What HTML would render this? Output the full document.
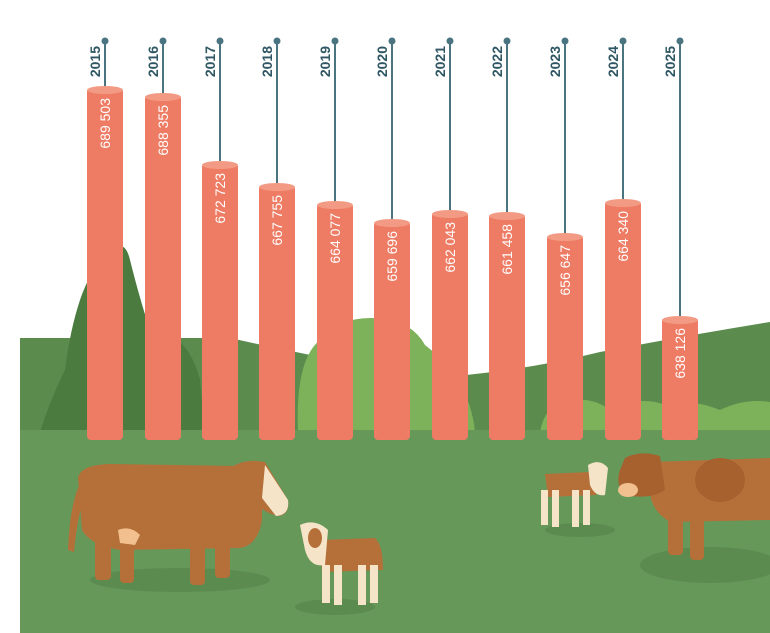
<!DOCTYPE html>
<html><head><meta charset="utf-8"><style>
html,body{margin:0;padding:0;background:#fff;}
svg{display:block}
text{font-family:"Liberation Sans",sans-serif}
</style></head><body>
<svg width="770" height="633" viewBox="0 0 770 633" xmlns="http://www.w3.org/2000/svg">
<rect width="770" height="633" fill="#fff"/>
<!-- back hill -->
<path d="M20 338 L230 338 Q330 360 430 378 Q520 372 600 352 Q690 335 770 322 L770 440 L20 440 Z" fill="#5b8c4e"/>
<!-- dark tree -->
<path d="M80 300 Q90 270 110 250 Q125 238 130 260 Q140 300 150 330 Q170 350 185 380 Q195 410 200 432 L40 432 Q50 400 65 370 Q70 330 80 300 Z" fill="#4b7b3f"/>
<path d="M160 330 Q190 340 200 380 L205 432 L150 432 Z" fill="#4b7b3f"/>
<!-- light bush -->
<path d="M298 432 Q295 360 320 340 Q340 318 370 318 Q410 318 425 345 Q470 380 475 432 Z" fill="#7db25a"/>
<path d="M540 432 Q545 405 565 402 Q590 395 610 410 Q640 395 665 405 Q690 398 720 410 Q745 398 770 402 L770 432 Z" fill="#7db25a"/>
<!-- ground -->
<rect x="20" y="430" width="750" height="203" fill="#66985a"/>
<!-- shadows -->
<ellipse cx="180" cy="580" rx="90" ry="12" fill="#5c8b50"/>
<ellipse cx="335" cy="607" rx="40" ry="8" fill="#5c8b50"/>
<ellipse cx="580" cy="530" rx="35" ry="7" fill="#5c8b50"/>
<ellipse cx="710" cy="565" rx="70" ry="18" fill="#5c8b50"/>
<!-- big cow left -->
<g fill="#b5703a">
<path d="M78 478 Q80 465 110 464 L240 466 Q260 470 262 480 L262 520 Q258 545 240 548 L120 550 Q90 545 82 530 Z"/>
<path d="M82 480 Q70 500 68 550 L74 552 Q78 510 86 495 Z"/>
<rect x="95" y="530" width="16" height="50" rx="4"/><rect x="120" y="535" width="14" height="48" rx="4"/>
<rect x="190" y="535" width="15" height="50" rx="4"/><rect x="215" y="530" width="15" height="48" rx="4"/>
<path d="M230 468 Q245 458 265 462 L288 500 Q290 515 278 516 Q260 512 248 495 Z"/>
</g>
<path d="M265 465 L288 500 Q290 515 276 516 L262 498 Z" fill="#f6e4c8"/>
<path d="M118 530 Q130 525 140 535 L135 545 L120 543 Z" fill="#f2c08e"/>
<!-- calf left -->
<g fill="#b5703a"><path d="M320 540 L375 538 Q383 545 383 570 L322 572 Z"/>
<rect x="322" y="565" width="8" height="38" fill="#f6e4c8"/><rect x="334" y="565" width="8" height="40" fill="#f6e4c8"/>
<rect x="358" y="565" width="8" height="40" fill="#f6e4c8"/><rect x="370" y="565" width="8" height="38" fill="#f6e4c8"/>
<path d="M300 525 Q315 518 328 530 L325 565 Q310 568 305 550 Z" fill="#f6e4c8"/>
<ellipse cx="315" cy="538" rx="7" ry="10"/></g>
<!-- calf right -->
<g fill="#b5703a"><path d="M545 474 L590 472 Q597 480 596 495 L548 497 Z"/>
<rect x="541" y="490" width="7" height="35" fill="#f6e4c8"/><rect x="552" y="490" width="7" height="37" fill="#f6e4c8"/>
<rect x="572" y="490" width="7" height="37" fill="#f6e4c8"/><rect x="583" y="490" width="7" height="35" fill="#f6e4c8"/>
<path d="M588 465 Q600 458 608 468 L605 495 Q595 497 590 485 Z" fill="#f6e4c8"/></g>
<!-- big cow right -->
<g fill="#b5703a">
<path d="M650 462 L770 458 L770 520 L670 522 Q650 510 650 490 Z"/>
<rect x="668" y="505" width="15" height="50" rx="4"/><rect x="690" y="508" width="14" height="52" rx="4"/>
<path d="M625 458 Q640 450 660 456 L665 490 Q650 500 625 495 Q615 485 620 470 Z" fill="#a6612f"/>
</g>
<ellipse cx="720" cy="480" rx="25" ry="22" fill="#a6612f"/>
<ellipse cx="628" cy="490" rx="10" ry="7" fill="#f2c08e"/>
<!-- bars -->
<g id="bars"></g>
<g stroke="#4a7480" stroke-width="2" fill="#4a7480">
<line x1="105" y1="41" x2="105" y2="88"/><circle cx="105" cy="41" r="2.5"/>
<line x1="163" y1="41" x2="163" y2="95"/><circle cx="163" cy="41" r="2.5"/>
<line x1="220" y1="41" x2="220" y2="163"/><circle cx="220" cy="41" r="2.5"/>
<line x1="277" y1="41" x2="277" y2="185"/><circle cx="277" cy="41" r="2.5"/>
<line x1="335" y1="41" x2="335" y2="203"/><circle cx="335" cy="41" r="2.5"/>
<line x1="392" y1="41" x2="392" y2="221"/><circle cx="392" cy="41" r="2.5"/>
<line x1="450" y1="41" x2="450" y2="212"/><circle cx="450" cy="41" r="2.5"/>
<line x1="507" y1="41" x2="507" y2="214"/><circle cx="507" cy="41" r="2.5"/>
<line x1="565" y1="41" x2="565" y2="235"/><circle cx="565" cy="41" r="2.5"/>
<line x1="623" y1="41" x2="623" y2="201"/><circle cx="623" cy="41" r="2.5"/>
<line x1="680" y1="41" x2="680" y2="318"/><circle cx="680" cy="41" r="2.5"/>
</g>
<g fill="#ee7b63">
<rect x="87" y="88" width="36" height="352" rx="4"/>
<rect x="145" y="95" width="36" height="345" rx="4"/>
<rect x="202" y="163" width="36" height="277" rx="4"/>
<rect x="259" y="185" width="36" height="255" rx="4"/>
<rect x="317" y="203" width="36" height="237" rx="4"/>
<rect x="374" y="221" width="36" height="219" rx="4"/>
<rect x="432" y="212" width="36" height="228" rx="4"/>
<rect x="489" y="214" width="36" height="226" rx="4"/>
<rect x="547" y="235" width="36" height="205" rx="4"/>
<rect x="605" y="201" width="36" height="239" rx="4"/>
<rect x="662" y="318" width="36" height="122" rx="4"/>
</g>
<g fill="#f29a83">
<ellipse cx="105" cy="90" rx="18" ry="4"/><ellipse cx="163" cy="97" rx="18" ry="4"/>
<ellipse cx="220" cy="165" rx="18" ry="4"/><ellipse cx="277" cy="187" rx="18" ry="4"/>
<ellipse cx="335" cy="205" rx="18" ry="4"/><ellipse cx="392" cy="223" rx="18" ry="4"/>
<ellipse cx="450" cy="214" rx="18" ry="4"/><ellipse cx="507" cy="216" rx="18" ry="4"/>
<ellipse cx="565" cy="237" rx="18" ry="4"/><ellipse cx="623" cy="203" rx="18" ry="4"/>
<ellipse cx="680" cy="320" rx="18" ry="4"/>
</g>
<g fill="#2e5663" font-weight="bold" font-size="14" text-anchor="end">
<text transform="translate(100,46) rotate(-90)">2015</text>
<text transform="translate(158,46) rotate(-90)">2016</text>
<text transform="translate(215,46) rotate(-90)">2017</text>
<text transform="translate(272,46) rotate(-90)">2018</text>
<text transform="translate(330,46) rotate(-90)">2019</text>
<text transform="translate(387,46) rotate(-90)">2020</text>
<text transform="translate(445,46) rotate(-90)">2021</text>
<text transform="translate(502,46) rotate(-90)">2022</text>
<text transform="translate(560,46) rotate(-90)">2023</text>
<text transform="translate(618,46) rotate(-90)">2024</text>
<text transform="translate(675,46) rotate(-90)">2025</text>
</g>
<g fill="#fff" font-size="14" text-anchor="end">
<text transform="translate(110,98) rotate(-90)">689 503</text>
<text transform="translate(168,105) rotate(-90)">688 355</text>
<text transform="translate(225,173) rotate(-90)">672 723</text>
<text transform="translate(282,195) rotate(-90)">667 755</text>
<text transform="translate(340,213) rotate(-90)">664 077</text>
<text transform="translate(397,231) rotate(-90)">659 696</text>
<text transform="translate(455,222) rotate(-90)">662 043</text>
<text transform="translate(512,224) rotate(-90)">661 458</text>
<text transform="translate(570,245) rotate(-90)">656 647</text>
<text transform="translate(628,211) rotate(-90)">664 340</text>
<text transform="translate(685,328) rotate(-90)">638 126</text>
</g>
</svg>
</body></html>
